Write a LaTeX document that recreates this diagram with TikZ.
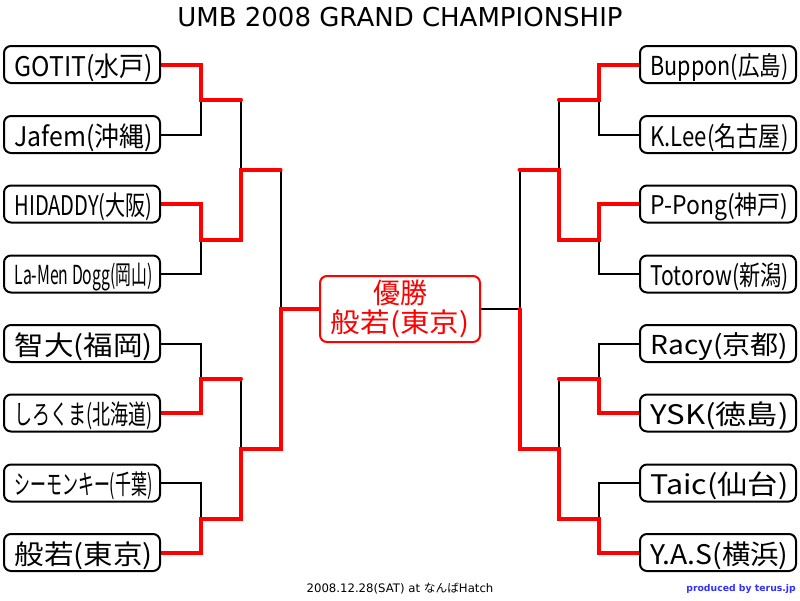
\documentclass[tikz,border=0pt]{standalone}
\usepackage{fontspec}
\setmainfont{Noto Sans CJK JP}
\newfontfamily\latinfont{DejaVu Sans}
\usepackage{graphicx}
\usetikzlibrary{backgrounds}
\definecolor{winred}{HTML}{FF0000}
\definecolor{credit}{HTML}{3030FF}
\newcommand{\namebox}[1]{\resizebox*{138pt}{28pt}{#1}}
\newcommand{\fitname}[1]{\vbox{\kern6pt\hbox{\kern3pt\namebox{#1}}}}
\tikzset{
  player/.style={rectangle, rounded corners=7pt, draw=black, fill=white, line width=2pt, minimum width=156pt, minimum height=37pt, inner sep=0pt, outer sep=0pt},
  champion/.style={rectangle, rounded corners=7pt, draw=winred, fill=white, text=winred, line width=2pt, minimum width=160pt, minimum height=66pt, inner sep=0pt, outer sep=0pt, align=center},
  loseline/.style={draw=black, line width=2pt, line cap=round},
  winline/.style={draw=winred, line width=4pt, line cap=round}
}

\begin{document}
\begin{tikzpicture}[x=1pt, y=-1pt]
      \useasboundingbox (0,0) rectangle (800,600);
      \node[inner sep=0pt] (title) at (400,17) {\latinfont\fontsize{26}{30}\selectfont UMB 2008 GRAND CHAMPIONSHIP};
      \node[player] (p1) at (82,64.5) {\fitname{GOTIT(水戸)}};
      \node[player] (p2) at (82,134.5) {\fitname{Jafem(沖縄)}};
      \node[player] (p3) at (82,204) {\fitname{HIDADDY(大阪)}};
      \node[player] (p4) at (82,274) {\fitname{La-Men Dogg(岡山)}};
      \node[player] (p5) at (82,343.5) {\fitname{智大(福岡)}};
      \node[player] (p6) at (82,413) {\fitname{しろくま(北海道)}};
      \node[player] (p7) at (82,483) {\fitname{シーモンキー(千葉)}};
      \node[player] (p8) at (82,552.5) {\fitname{般若(東京)}};
      \node[player] (q1) at (718,64.5) {\fitname{Buppon(広島)}};
      \node[player] (q2) at (718,134.5) {\fitname{K.Lee(名古屋)}};
      \node[player] (q3) at (718,204) {\fitname{P-Pong(神戸)}};
      \node[player] (q4) at (718,274) {\fitname{Totorow(新潟)}};
      \node[player] (q5) at (718,343.5) {\fitname{Racy(京都)}};
      \node[player] (q6) at (718,413) {\fitname{YSK(徳島)}};
      \node[player] (q7) at (718,483) {\fitname{Taic(仙台)}};
      \node[player] (q8) at (718,552.5) {\fitname{Y.A.S(横浜)}};
      \node[champion] (final) at (400,309) {\resizebox*{54pt}{26pt}{優勝}\\[3pt]\namebox{般若(東京)}};
      \node[inner sep=0pt] (date) at (400,588.5) {\fontsize{11.7}{14}\selectfont{\latinfont 2008.12.28(SAT) at }なんば{\latinfont Hatch}};
      \node[inner sep=0pt, anchor=east, text=credit] (credit) at (796,589) {\latinfont\bfseries\fontsize{9.3}{12}\selectfont produced by terus.jp};
      \coordinate (m1) at (201,99.5);
      \coordinate (m2) at (201,239.5);
      \coordinate (m3) at (201,378.5);
      \coordinate (m4) at (201,518.5);
      \coordinate (s1) at (241,169.5);
      \coordinate (s2) at (241,448.5);
      \coordinate (f1) at (280.5,309);
      \coordinate (n1) at (598.5,99.5);
      \coordinate (n2) at (598.5,239.5);
      \coordinate (n3) at (598.5,378.5);
      \coordinate (n4) at (598.5,518.5);
      \coordinate (t1) at (559,169.5);
      \coordinate (t2) at (559,448.5);
      \coordinate (f2) at (519.5,309);
      \begin{scope}[on background layer]
      \draw[loseline] (p2.east) -| (m1);
      \draw[loseline] (p4.east) -| (m2);
      \draw[loseline] (p5.east) -| (m3);
      \draw[loseline] (p7.east) -| (m4);
      \draw[loseline] (m1) -| (s1);
      \draw[loseline] (m3) -| (s2);
      \draw[loseline] (s1) -| (f1);
      \draw[loseline] (q2.west) -| (n1);
      \draw[loseline] (q4.west) -| (n2);
      \draw[loseline] (q5.west) -| (n3);
      \draw[loseline] (q7.west) -| (n4);
      \draw[loseline] (n1) -| (t1);
      \draw[loseline] (n3) -| (t2);
      \draw[loseline] (t1) -| (f2);
      \draw[loseline] (final.east) -- (f2);
      \draw[winline] (p1.east) -| (m1) -- (m1 -| s1);
      \draw[winline] (p3.east) -| (m2) -| (s1) -- (s1 -| f1);
      \draw[winline] (p6.east) -| (m3) -- (m3 -| s2);
      \draw[winline] (p8.east) -| (m4) -| (s2) -| (f1) -- (final.west);
      \draw[winline] (q1.west) -| (n1) -- (n1 -| t1);
      \draw[winline] (q3.west) -| (n2) -| (t1) -- (t1 -| f2);
      \draw[winline] (q6.west) -| (n3) -- (n3 -| t2);
      \draw[winline] (q8.west) -| (n4) -| (t2) -| (f2);
      \end{scope}
    \end{tikzpicture}
\end{document}
